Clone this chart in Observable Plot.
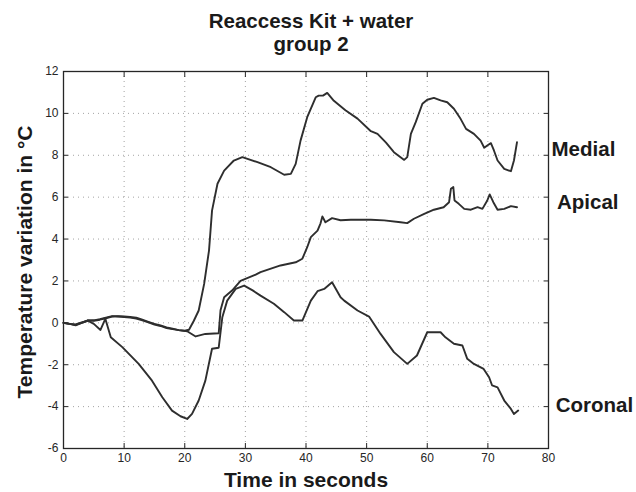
<!DOCTYPE html>
<html>
<head>
<meta charset="utf-8">
<script src="https://cdn.jsdelivr.net/npm/d3@7"></script>
<script src="https://cdn.jsdelivr.net/npm/@observablehq/plot@0.6"></script>
<style>
  html, body { margin: 0; padding: 0; background: #fff; }
  #chart svg { display: block; }
</style>
</head>
<body>
<div id="chart"></div>
<script>
// ---- tick values ----
const xTicks = [0, 10, 20, 30, 40, 50, 60, 70, 80];
const yTicks = [-6, -4, -2, 0, 2, 4, 6, 8, 10, 12];

// ---- text ----
const titleLines = ["Reaccess Kit + water", "group 2"];
const xLabel = "Time in seconds";
const yLabel = "Temperature variation in °C";

// ---- series ----
const medialT = [0, 1, 2, 3, 4, 5, 6, 7, 8, 9, 10, 11, 12, 13, 14, 15, 16, 17, 18, 19, 20,
  20.7, 21.5, 22.3, 23.2, 24.0, 24.5, 25.4, 26.5, 28.1, 29.5, 32.0, 34.2, 36.4, 37.5, 38.3,
  39.1, 40.2, 41.6, 42.1, 42.8, 43.5, 44.6, 46.5, 48.5, 50.7, 51.8, 53.2, 54.5, 56.2, 56.7,
  57.3, 58.1, 59.2, 60.0, 61.1, 62.2, 63.3, 64.4, 65.5, 66.4, 67.7, 68.8, 69.4, 69.9, 70.5,
  71.0, 71.6, 72.7, 73.8, 74.3, 74.8];
const medialV = [0, -0.05, -0.1, 0.0, 0.12, 0.1, 0.15, 0.22, 0.3, 0.32, 0.3, 0.28, 0.25, 0.15, 0.05, -0.05, -0.12, -0.22, -0.28, -0.35, -0.38,
  -0.33, 0.1, 0.59, 1.86, 3.45, 5.36, 6.64, 7.27, 7.75, 7.91, 7.67, 7.43, 7.07, 7.11, 7.59,
  8.7, 9.82, 10.77, 10.85, 10.85, 10.98, 10.6, 10.15, 9.75, 9.15, 9.02, 8.6, 8.15, 7.78, 7.91,
  9.02, 9.58, 10.46, 10.65, 10.74, 10.62, 10.53, 10.22, 9.74, 9.26, 9.02, 8.7, 8.36, 8.47, 8.58,
  8.23, 7.75, 7.35, 7.24, 7.75, 8.62];

const apicalT = [0, 1, 2, 3, 4, 5, 6, 7, 8, 9, 10, 11, 12, 13, 14, 15, 16, 17, 18, 19, 20.4,
  21.8, 23.4, 25.6, 25.9, 26.5, 27.8, 29.2, 31.7, 32.5, 35.8, 38.3, 39.4, 40.2, 40.8, 41.9,
  42.4, 42.7, 43.2, 44.3, 45.7, 47.4, 50.7, 52.9, 55.6, 56.7, 57.8, 59.5, 61.1, 62.7, 63.6,
  63.9, 64.3, 64.5, 65.2, 66.1, 67.2, 68.3, 69.1, 69.9, 70.3, 70.9, 71.6, 72.7, 73.8, 74.8];
const apicalV = [0, -0.05, -0.08, 0.02, 0.1, 0.12, 0.18, 0.25, 0.32, 0.3, 0.28, 0.25, 0.2, 0.12, 0.02, -0.08, -0.15, -0.25, -0.3, -0.35, -0.4,
  -0.65, -0.53, -0.5, 0.6, 1.22, 1.54, 2.0, 2.3, 2.42, 2.74, 2.89, 3.06, 3.61, 4.09, 4.4,
  4.75, 5.08, 4.8, 5.0, 4.9, 4.92, 4.92, 4.89, 4.8, 4.76, 4.97, 5.2, 5.4, 5.52, 5.76,
  6.4, 6.48, 5.84, 5.68, 5.44, 5.4, 5.52, 5.44, 5.84, 6.13, 5.76, 5.4, 5.44, 5.57, 5.52];

const coronalT = [0, 1, 2, 3, 4, 5, 6.1, 6.9, 7.8, 9.7, 12.4, 14.6, 16.3, 17.9, 19.3, 20.4,
  21.2, 22.3, 23.4, 24.5, 25.6, 26.2, 27.0, 28.4, 29.8, 31.2, 32.5, 34.7, 36.4, 38.0, 39.4,
  40.8, 41.9, 43.0, 44.3, 45.7, 46.3, 48.5, 50.4, 52.3, 54.5, 56.7, 58.3, 60.0, 62.2, 63.0,
  64.4, 65.8, 66.6, 67.7, 69.3, 70.2, 70.7, 71.6, 72.7, 73.8, 74.3, 75.0];
const coronalV = [0, -0.05, -0.12, 0.0, 0.1, -0.05, -0.34, 0.19, -0.69, -1.16, -1.96, -2.76, -3.55, -4.19, -4.46, -4.59,
  -4.35, -3.71, -2.76, -1.24, -1.19, 0.27, 1.06, 1.62, 1.78, 1.55, 1.3, 0.91, 0.51, 0.11, 0.11,
  1.06, 1.51, 1.62, 1.94, 1.22, 1.06, 0.59, 0.3, -0.53, -1.4, -1.96, -1.56, -0.45, -0.45, -0.69,
  -1.0, -1.08, -1.72, -1.96, -2.2, -2.6, -2.99, -3.08, -3.71, -4.11, -4.35, -4.19];

// ---- series labels on the right ----
const seriesNames = ["Medial", "Apical", "Coronal"];
const labelX = [80.5, 81.4, 81.2];
const labelY = [8.28, 5.74, -3.95];

// ---- build tables ----
const series = [
  {name: "Medial", t: medialT, v: medialV},
  {name: "Apical", t: apicalT, v: apicalV},
  {name: "Coronal", t: coronalT, v: coronalV}
];
const rows = series.flatMap(s => s.t.map((t, i) => ({series: s.name, t, v: s.v[i]})));
const labels = seriesNames.map((n, i) => ({name: n, x: labelX[i], y: labelY[i]}));

const ink = "#262626";
const font = "'Liberation Sans', Arial, Helvetica, sans-serif";
const big = {fontSize: 21, fontWeight: "bold", fill: "#1a1a1a", textAnchor: "middle", lineAnchor: "middle"};

const chart = Plot.plot({
  width: 636,
  height: 492,
  marginLeft: 63,
  marginRight: 88,
  marginTop: 71,
  marginBottom: 44,
  x: {domain: [0, 80]},
  y: {domain: [-6, 12]},
  style: {fontFamily: font, background: "#fff", color: ink, overflow: "visible"},
  marks: [
    Plot.gridX(xTicks, {stroke: "#333", strokeOpacity: 0.45, strokeDasharray: "1,4", strokeWidth: 1}),
    Plot.gridY(yTicks, {stroke: "#333", strokeOpacity: 0.45, strokeDasharray: "1,4", strokeWidth: 1}),
    Plot.axisX(xTicks, {anchor: "bottom", tickSize: -5, tickPadding: 10, label: null, fontSize: 12, tickFormat: d => d, stroke: ink, fill: ink}),
    Plot.axisX(xTicks, {anchor: "top", tickSize: -5, label: null, tickFormat: () => "", stroke: ink}),
    Plot.axisY(yTicks, {anchor: "left", tickSize: -5, tickPadding: 10, label: null, fontSize: 12, tickFormat: d => d, stroke: ink, fill: ink}),
    Plot.axisY(yTicks, {anchor: "right", tickSize: -5, label: null, tickFormat: () => "", stroke: ink}),
    Plot.frame({stroke: ink, strokeWidth: 1.3}),
    Plot.line(rows, {x: "t", y: "v", z: "series", stroke: "#2e2e2e", strokeWidth: 1.9, strokeLinejoin: "round"}),
    Plot.text(labels, {x: "x", y: "y", text: "name", textAnchor: "start", fontSize: 20.5, fontWeight: "bold", fill: "#1a1a1a"}),
    Plot.text([titleLines[0]], {...big, frameAnchor: "top", dx: 5, dy: -50, fontSize: 20.5}),
    Plot.text([titleLines[1]], {...big, frameAnchor: "top", dx: 5, dy: -27, fontSize: 20.5}),
    Plot.text([xLabel], {...big, frameAnchor: "bottom", dy: 32}),
    Plot.text([yLabel], {...big, frameAnchor: "left", dx: -38, dy: 2, rotate: -90})
  ]
});
document.getElementById("chart").appendChild(chart);
</script>
</body>
</html>
